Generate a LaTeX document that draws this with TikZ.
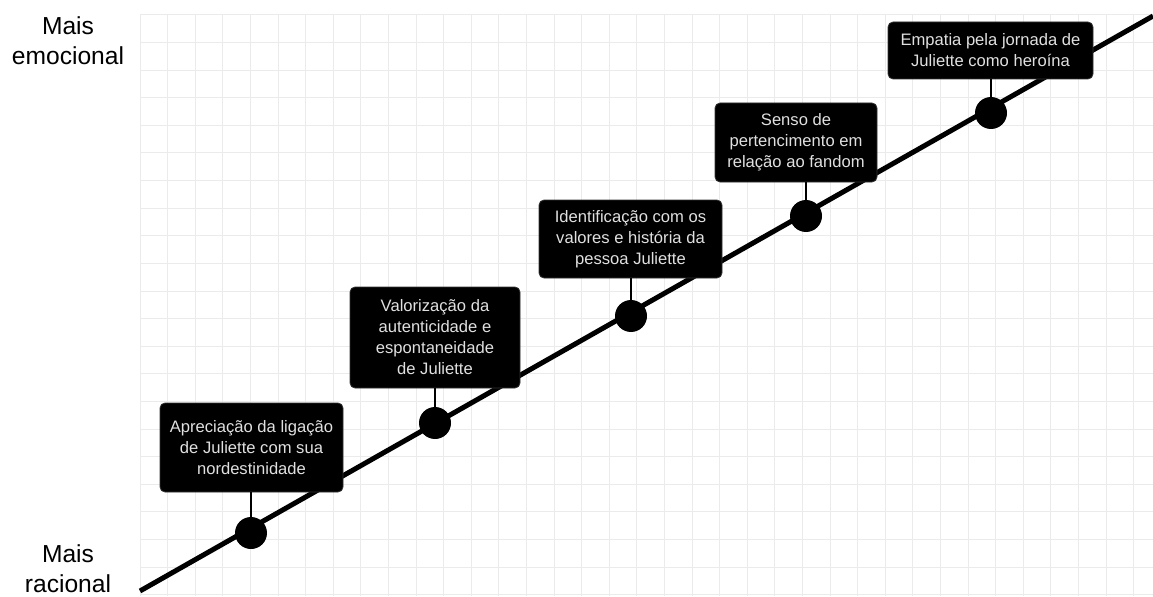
\documentclass[tikz,border=0pt]{standalone}
\usepackage{fontspec}
\setmainfont{Liberation Sans}
\usetikzlibrary{positioning,calc}

\begin{document}
\begin{tikzpicture}[x=0.5pt,y=0.5pt,
	gridline/.style={draw=black!8, line width=0.5pt},
	labelbox/.style={fill=black, draw=black!80, rounded corners=2.5pt, inner sep=0pt,
		text=white!88!black, align=center, font=\fontsize{8.3}{10.5}\selectfont},
	dot/.style={circle, fill=black, minimum size=16pt, inner sep=0pt},
	stem/.style={draw=black, line width=1pt},
	axislabel/.style={align=center, font=\fontsize{12.3}{15}\selectfont}]
	
	\useasboundingbox (0,0) rectangle (1153,596);
	
	% Grid
	\foreach \i in {0,...,36}
	\draw[gridline] ({140+27.6*\i},0) -- ({140+27.6*\i},581);
	\foreach \j in {0,...,21}
	\draw[gridline] (140,{581-27.6*\j}) -- (1153,{581-27.6*\j});
	
	% Axis labels
	\node[axislabel] (maisemo) at (68,555) {Mais\\emocional};
	\node[axislabel] (maisrac) at (68,27) {Mais\\racional};
	
	% Main line
	\coordinate (start) at (140,5);
	\coordinate (end) at (1153,580);
	\draw[line width=2.5pt] (start) -- (end);
	
	% Dots
	\node[dot] (dot1) at (251,63) {};
	\node[dot] (dot2) at (435,173) {};
	\node[dot] (dot3) at (631,280) {};
	\node[dot] (dot4) at (806,380) {};
	\node[dot] (dot5) at (991,483) {};
	
	% Boxes
	\node[labelbox, minimum width=91.5pt, minimum height=44.5pt] (box1) at (251.5,148.5)
	{Apreciação da ligação\\de Juliette com sua\\nordestinidade};
	
	\node[labelbox, minimum width=85pt, minimum height=50.5pt] (box2) at (435,258.5)
	{Valorização da\\autenticidade e\\espontaneidade\\de Juliette};
	
	\node[labelbox, minimum width=91.5pt, minimum height=39pt] (box3) at (630.5,357)
	{Identificação com os\\valores e história da\\pessoa Juliette};
	
	\node[labelbox, minimum width=81pt, minimum height=39.5pt] (box4) at (796,453.5)
	{Senso de\\pertencimento em\\relação ao fandom};
	
	\node[labelbox, minimum width=102.5pt, minimum height=28.5pt] (box5) at (990.5,545.5)
	{Empatia pela jornada de\\Juliette como heroína};
	
	% Stems
	\draw[stem] (dot1 |- box1.south) -- (dot1);
	\draw[stem] (dot2 |- box2.south) -- (dot2);
	\draw[stem] (dot3 |- box3.south) -- (dot3);
	\draw[stem] (dot4 |- box4.south) -- (dot4);
	\draw[stem] (dot5 |- box5.south) -- (dot5);
	
\end{tikzpicture}
\end{document}
